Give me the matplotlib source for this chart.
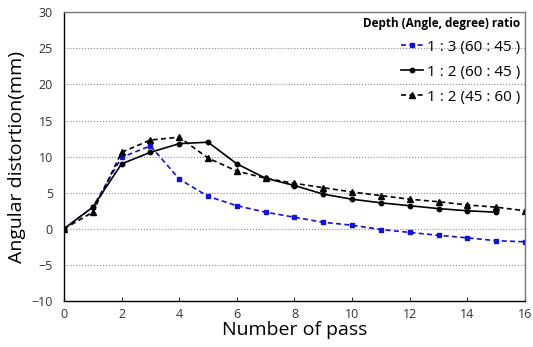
import matplotlib
matplotlib.use("Agg")
import matplotlib.pyplot as plt

passes_a = list(range(0, 17))
series_a = [0, 3.0, 9.9, 11.5, 6.9, 4.5, 3.2, 2.3, 1.6, 0.9, 0.5, -0.1, -0.5, -0.9, -1.25, -1.65, -1.8]
passes_b = list(range(0, 16))
series_b = [0, 3.0, 9.0, 10.6, 11.8, 12.0, 9.0, 7.0, 6.0, 4.8, 4.1, 3.6, 3.2, 2.8, 2.5, 2.3]
passes_c = list(range(0, 17))
series_c = [0, 2.3, 10.6, 12.3, 12.7, 9.8, 8.0, 7.0, 6.3, 5.7, 5.1, 4.6, 4.1, 3.75, 3.3, 3.0, 2.5]
labels = ["1 : 3 (60 : 45 )", "1 : 2 (60 : 45 )", "1 : 2 (45 : 60 )"]
legend_title = "Depth (Angle, degree) ratio"

plt.rcParams['font.family'] = ['Open Sans', 'DejaVu Sans']

fig = plt.figure(figsize=(5.33, 3.47), dpi=100)
ax = fig.add_axes([0.120, 0.1326, 0.865, 0.832])

ax.plot(passes_a, series_a, color='#1010e0', linestyle=(0, (3, 2)), linewidth=1.2,
        marker='s', markersize=3.5, label=labels[0])
ax.plot(passes_b, series_b, color='black', linestyle='-', linewidth=1.2,
        marker='o', markersize=3.2, label=labels[1])
ax.plot(passes_c, series_c, color='black', linestyle=(0, (3, 2)), linewidth=1.2,
        marker='^', markersize=3.8, label=labels[2])

ax.set_xlim(0, 16)
ax.set_ylim(-10, 30)
ax.set_xticks(range(0, 17, 2))
ax.set_yticks(range(-10, 31, 5))
ax.yaxis.grid(True, linestyle=':', color='#888888', linewidth=0.8)
ax.set_axisbelow(True)
ax.tick_params(axis='x', direction='in', length=3, labelsize=9, colors='#333333', pad=5)
ax.tick_params(axis='y', length=0, labelsize=9, colors='#333333', pad=8)
for s in ['left', 'bottom']:
    ax.spines[s].set_color('black')
    ax.spines[s].set_linewidth(1.0)
for s in ['top', 'right']:
    ax.spines[s].set_color('#777777')
    ax.spines[s].set_linewidth(1.0)

ax.set_xlabel("Number of pass", fontsize=14, labelpad=0)
ax.set_ylabel("Angular distortion(mm)", fontsize=14, labelpad=4)

leg = ax.legend(title=legend_title, loc='upper right', frameon=False, fontsize=11,
                title_fontproperties={'size': 8.5, 'weight': 'bold'},
                alignment='right', labelspacing=0.65, handlelength=1.4,
                handletextpad=0.3, borderaxespad=0.1, borderpad=0.2)

fig.savefig("out.png", dpi=100)
